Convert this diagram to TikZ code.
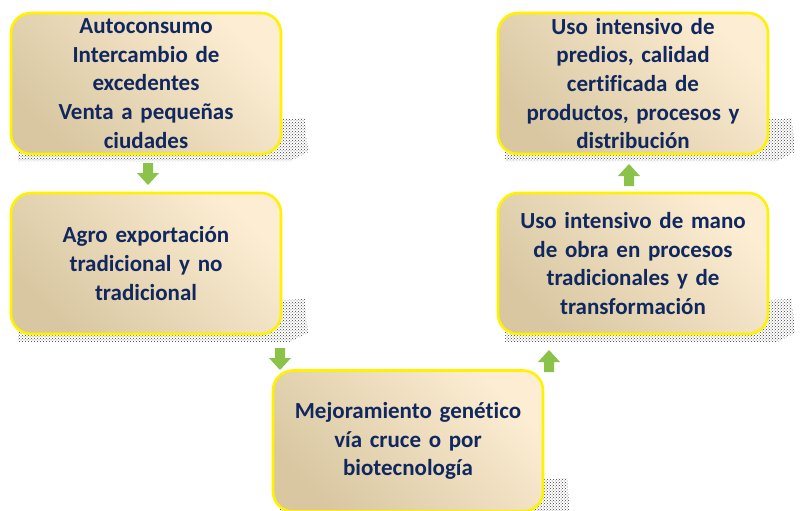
\documentclass[tikz,border=0pt]{standalone}
\usepackage{fontspec}
\setmainfont[Ligatures=CommonOff]{Carlito}
\usetikzlibrary{patterns,shapes.arrows}
\definecolor{txt}{HTML}{10285E}
\definecolor{boxlight}{HTML}{FDEDD3}
\definecolor{boxdark}{HTML}{D8C7A1}
\definecolor{arrowgreen}{HTML}{8BC34A}
\tikzset{
  stepbox/.style={draw=yellow, line width=2.6pt, rounded corners=20pt,
    minimum width=270pt, minimum height=141pt, align=center, text width=262pt,
    font=\bfseries\fontsize{23}{28.7}\selectfont, text=txt,
    shading=axis, left color=boxdark, right color=boxlight, shading angle=135},
  shadowpoly/.style={pattern=crosshatch dots, pattern color=black!75, draw=none},
  garrow/.style={fill=arrowgreen, draw=none}
}
\begin{document}
\begin{tikzpicture}[x=1pt,y=-1pt]
\useasboundingbox (0,0) rectangle (806,511);
% shadows
\foreach \x/\y in {10/12, 10/193, 272/372, 497/12, 497/193}{
  \fill[shadowpoly] (\x+250,\y+108) -- (\x+295,\y+106) -- (\x+298,\y+140) -- (\x+280,\y+149) -- (\x+8,\y+149) -- (\x+8,\y+130) -- cycle;
}
\node[stepbox] (b1) at (146,83.5) {Autoconsumo\\Intercambio de\\excedentes\\Venta a pequeñas\\ciudades};
\node[stepbox] (b2) at (146,263.5) {Agro exportación\\tradicional y no\\tradicional};
\node[stepbox] (b3) at (408,441) {Mejoramiento genético\\vía cruce o por\\biotecnología};
\node[stepbox] (b5) at (633,263.5) {Uso intensivo de mano\\de obra en procesos\\tradicionales y de\\transformación};
\node[stepbox] (b4) at (633,83.5) {Uso intensivo de\\predios, calidad\\certificada de\\productos, procesos y\\distribución};
% arrows
\coordinate (a1) at (148,163);
\fill[garrow] (a1) ++(-5,0) -- ++(10,0) -- ++(0,10) -- ++(6,0) -- ++(-11,12) -- ++(-11,-12) -- ++(6,0) -- cycle;
\coordinate (a2) at (280,348);
\fill[garrow] (a2) ++(-5,0) -- ++(10,0) -- ++(0,10) -- ++(6,0) -- ++(-11,12) -- ++(-11,-12) -- ++(6,0) -- cycle;
\coordinate (a3) at (549,372);
\fill[garrow] (a3) ++(-5,0) -- ++(10,0) -- ++(0,-10) -- ++(6,0) -- ++(-11,-12) -- ++(-11,12) -- ++(6,0) -- cycle;
\coordinate (a4) at (629,186);
\fill[garrow] (a4) ++(-5,0) -- ++(10,0) -- ++(0,-10) -- ++(6,0) -- ++(-11,-12) -- ++(-11,12) -- ++(6,0) -- cycle;
\end{tikzpicture}
\end{document}
